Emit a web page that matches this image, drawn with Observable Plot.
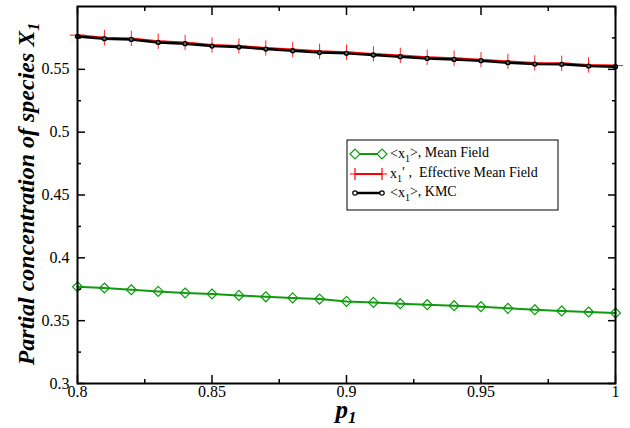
<!DOCTYPE html>
<html><head><meta charset="utf-8">
<script src="https://cdn.jsdelivr.net/npm/d3@7"></script>
<script src="https://cdn.jsdelivr.net/npm/@observablehq/plot@0.6"></script>
<style>body{margin:0;background:#fff} #chart{position:relative;width:630px;height:428px}</style>
</head><body><div id="chart"></div>
<script>
const p1 = [0.80,0.81,0.82,0.83,0.84,0.85,0.86,0.87,0.88,0.89,0.90,0.91,0.92,0.93,0.94,0.95,0.96,0.97,0.98,0.99,1.00];
const meanField = [0.3770,0.3760,0.3746,0.3733,0.3720,0.3712,0.3701,0.3690,0.3681,0.3672,0.3653,0.3645,0.3635,0.3627,0.3619,0.3611,0.3598,0.3587,0.3577,0.3569,0.3561];
const effectiveMF = [0.5772,0.5752,0.5746,0.5724,0.5713,0.5694,0.5686,0.5670,0.5657,0.5643,0.5636,0.5623,0.5611,0.5596,0.5589,0.5577,0.5563,0.5551,0.5548,0.5535,0.5530];
const kmc = [0.5762,0.5744,0.5738,0.5714,0.5704,0.5685,0.5677,0.5661,0.5648,0.5633,0.5627,0.5614,0.5601,0.5587,0.5579,0.5569,0.5553,0.5542,0.5540,0.5526,0.5521];
const xMajorTicks = [0.8,0.85,0.9,0.95,1];
const xMinorTicks = [0.825,0.875,0.925,0.975];
const yMajorTicks = [0.3,0.35,0.4,0.45,0.5,0.55];
const yMinorTicks = [0.325,0.375,0.425,0.475,0.525,0.575];
const xDomain = [0.8,1];
const yDomain = [0.3,0.6];

const green = "#109a10";
const serif = "'Liberation Serif','Times New Roman',serif";
const mf = p1.map((p,i)=>({p, v: meanField[i]}));
const em = p1.map((p,i)=>({p, v: effectiveMF[i]}));
const km = p1.map((p,i)=>({p, v: kmc[i]}));
const blank = () => "";

const chart = Plot.plot({
  width: 630, height: 428,
  marginTop: 6, marginRight: 15, marginBottom: 45, marginLeft: 77,
  x: {domain: xDomain, label: null},
  y: {domain: yDomain, label: null},
  style: {fontFamily: serif, fontSize: "16px", background: "white", color: "black"},
  marks: [
    Plot.line(mf, {x: "p", y: "v", stroke: green, strokeWidth: 2}),
    Plot.dot(mf, {x: "p", y: "v", symbol: "diamond2", r: 4.5, stroke: green, strokeWidth: 1.2, fill: "none"}),
    Plot.line(em, {x: "p", y: "v", stroke: "red", strokeWidth: 2}),
    Plot.dot(em, {x: "p", y: "v", symbol: "plus", r: 5, stroke: "#ff2020", strokeWidth: 1}),
    Plot.line(km, {x: "p", y: "v", stroke: "black", strokeWidth: 2.5}),
    Plot.dot(km, {x: "p", y: "v", r: 2, stroke: "black", fill: "#666", strokeWidth: 1.3}),
    Plot.axisX(xMajorTicks, {anchor: "bottom", tickSize: -8, tickFormat: blank, label: null, strokeWidth: 1.5}),
    Plot.axisX(xMinorTicks, {anchor: "bottom", tickSize: -4, tickFormat: blank, label: null, strokeWidth: 1.5}),
    Plot.axisX(xMajorTicks, {anchor: "top", tickSize: -8, tickFormat: blank, label: null, strokeWidth: 1.5}),
    Plot.axisX(xMinorTicks, {anchor: "top", tickSize: -4, tickFormat: blank, label: null, strokeWidth: 1.5}),
    Plot.axisY(yMajorTicks, {anchor: "left", tickSize: -8, tickFormat: blank, label: null, strokeWidth: 1.5}),
    Plot.axisY(yMinorTicks, {anchor: "left", tickSize: -4, tickFormat: blank, label: null, strokeWidth: 1.5}),
    Plot.axisY(yMajorTicks, {anchor: "right", tickSize: -8, tickFormat: blank, label: null, strokeWidth: 1.5}),
    Plot.axisY(yMinorTicks, {anchor: "right", tickSize: -4, tickFormat: blank, label: null, strokeWidth: 1.5}),
    Plot.axisX(xMajorTicks, {anchor: "bottom", tickSize: 0, tickPadding: 2, tickFormat: d => String(d), label: null, fontSize: 16}),
    Plot.axisY(yMajorTicks, {anchor: "left", tickSize: 0, tickPadding: 8, tickFormat: d => String(d), label: null, fontSize: 16}),
    Plot.frame({stroke: "black", strokeWidth: 2})
  ]
});
document.getElementById("chart").appendChild(chart);

const svg = d3.select(chart);
// Y axis title
const yt = svg.append("text")
  .attr("transform", "translate(34,194) rotate(-90)")
  .attr("text-anchor", "middle")
  .style("font-family", serif).style("font-size", "24px")
  .style("font-weight", "bold").style("font-style", "italic").attr("fill", "black");
yt.append("tspan").text("Partial concentration of species X");
yt.append("tspan").attr("dy", "0.3em").style("font-size", "16px").text("1");
// X axis title
const xt = svg.append("text")
  .attr("x", 346).attr("y", 418)
  .attr("text-anchor", "middle")
  .style("font-family", serif).style("font-size", "25px")
  .style("font-weight", "bold").style("font-style", "italic").attr("fill", "black");
xt.append("tspan").text("p");
xt.append("tspan").attr("dy", "0.3em").style("font-size", "17px").text("1");

// Legend
const lg = svg.append("g").style("font-family", serif).style("font-size", "14px").attr("text-anchor", "start");
lg.append("rect").attr("x", 347).attr("y", 140).attr("width", 211).attr("height", 70)
  .attr("fill", "white").attr("stroke", "black").attr("stroke-width", 1);
const rows = [
  {y: 154, color: green, kind: "diamond", parts: [["<x",""],["1","sub"],[">, Mean Field",""]]},
  {y: 174, color: "red", kind: "plus", parts: [["x",""],["1","sub"],["′ ,  Effective Mean Field",""]]},
  {y: 193, color: "black", kind: "circle", parts: [["<x",""],["1","sub"],[">, KMC",""]]}
];
rows.forEach(r => {
  const w = r.kind === "circle" ? 2.5 : 2;
  lg.append("line").attr("x1", 355).attr("x2", 382).attr("y1", r.y).attr("y2", r.y)
    .attr("stroke", r.color).attr("stroke-width", w);
  [355, 382].forEach(cx => {
    if (r.kind === "diamond") {
      lg.append("path").attr("d", `M${cx-5},${r.y}L${cx},${r.y-5}L${cx+5},${r.y}L${cx},${r.y+5}Z`)
        .attr("fill", "white").attr("stroke", r.color).attr("stroke-width", 1.2);
    } else if (r.kind === "plus") {
      lg.append("path").attr("d", `M${cx},${r.y-6}V${r.y+6}M${cx-5},${r.y}H${cx+5}`)
        .attr("stroke", r.color).attr("stroke-width", 1.2);
    } else {
      lg.append("circle").attr("cx", cx).attr("cy", r.y).attr("r", 2.2)
        .attr("fill", "white").attr("stroke", "black").attr("stroke-width", 1.2);
    }
  });
  const t = lg.append("text").attr("x", 390).attr("y", r.y + 4).attr("fill", "black").attr("text-anchor", "start");
  let shifted = false;
  r.parts.forEach(([s, k]) => {
    if (k === "sub") { t.append("tspan").attr("dy", "0.35em").style("font-size", "10px").text(s); shifted = true; }
    else { t.append("tspan").attr("dy", shifted ? "-0.35em" : null).text(s); shifted = false; }
  });
});
</script>
</body></html>
